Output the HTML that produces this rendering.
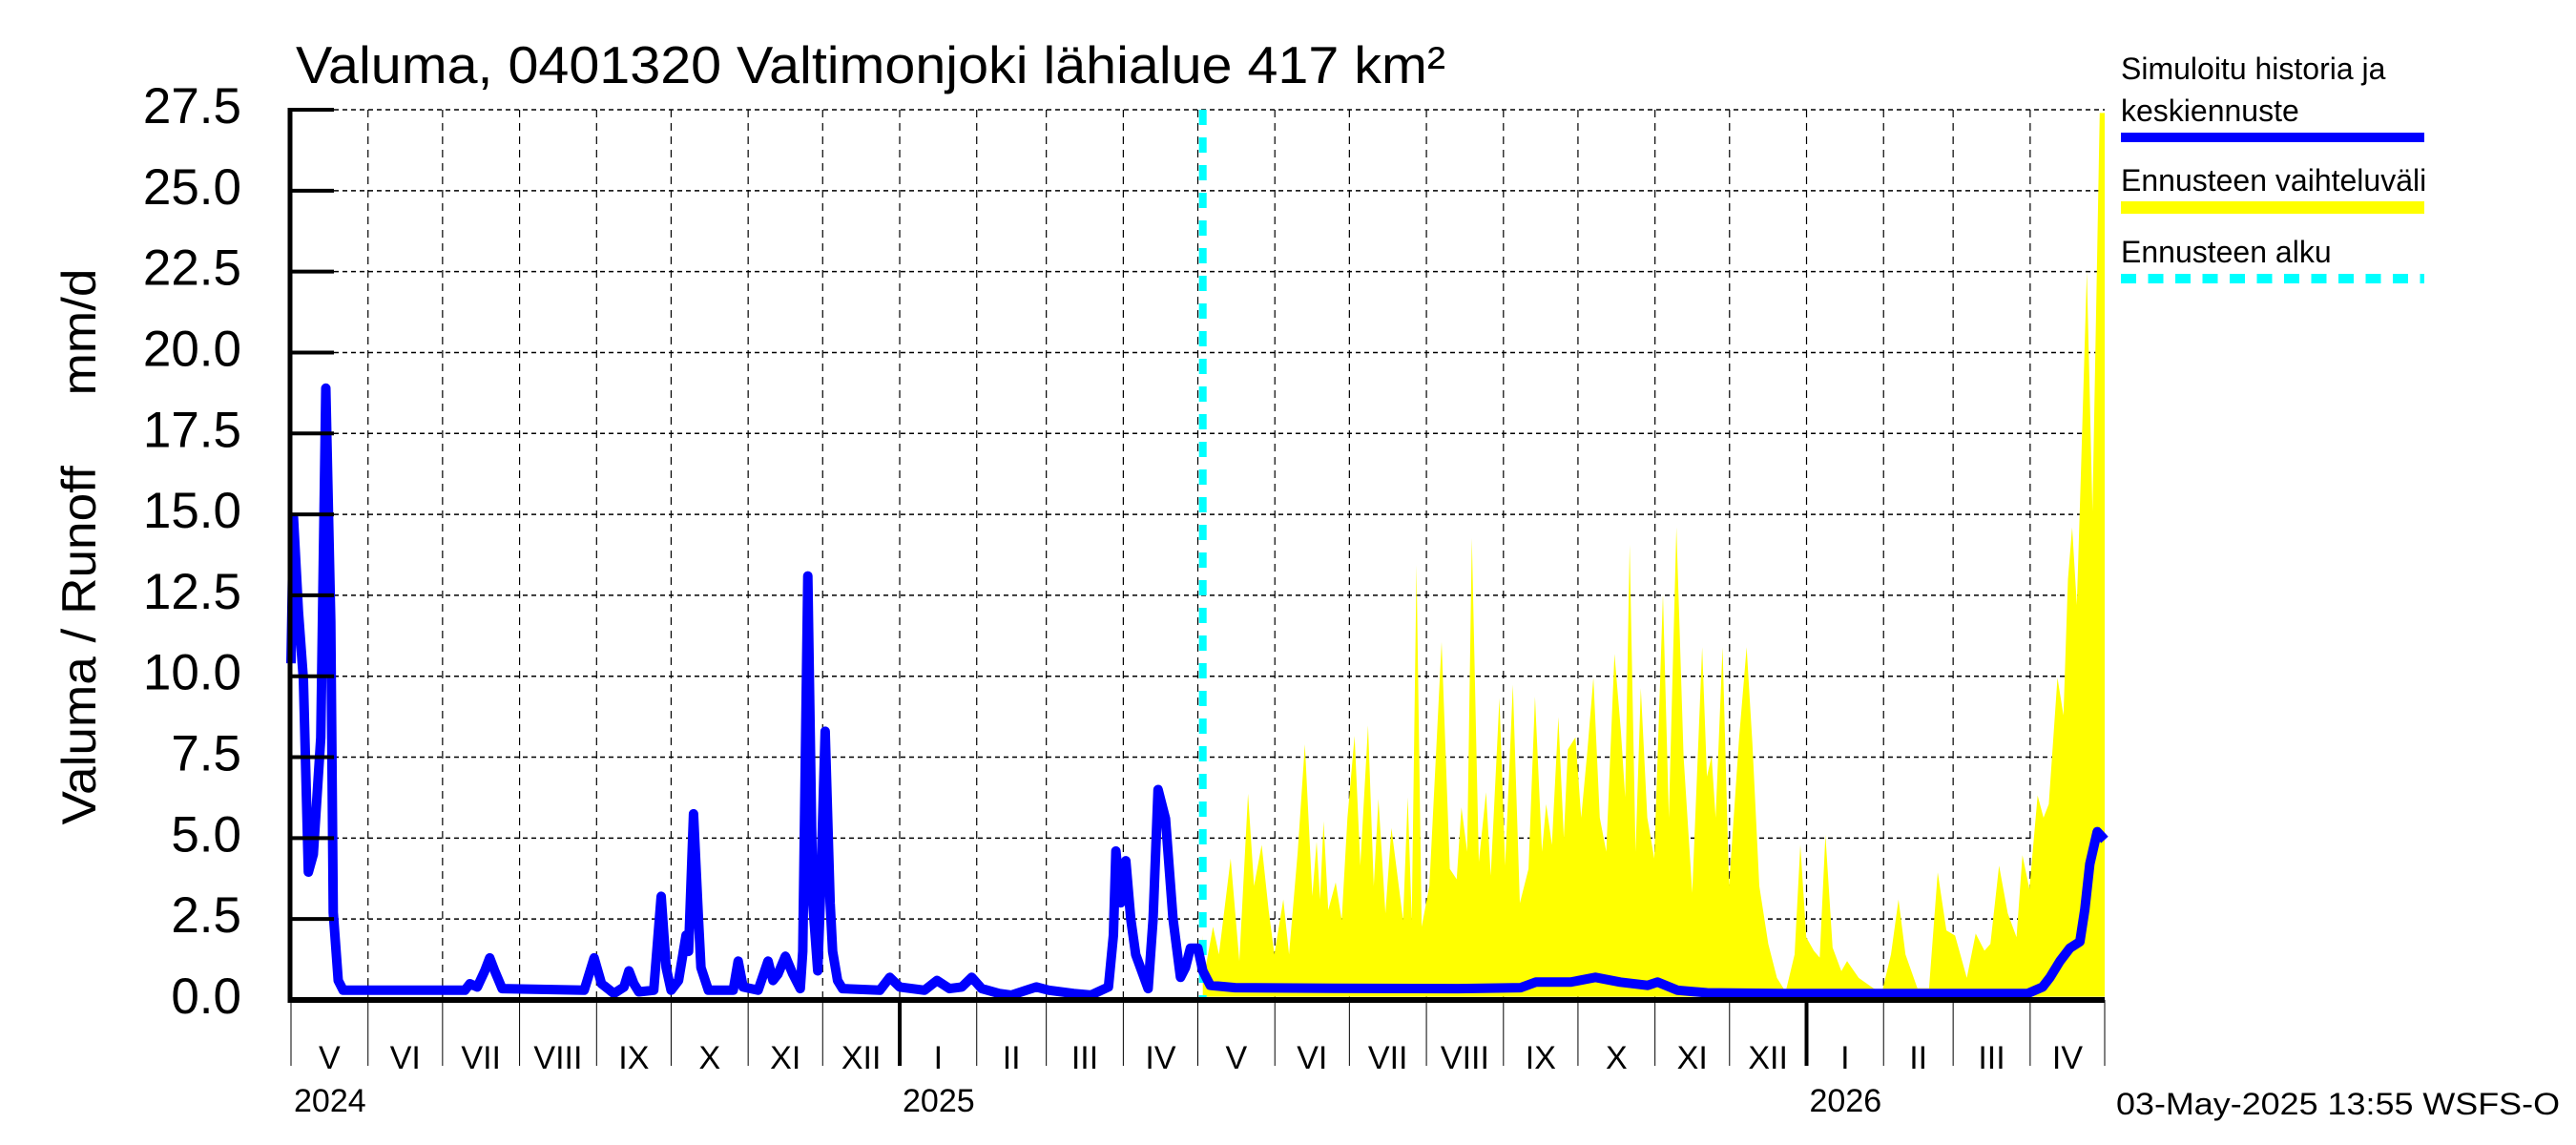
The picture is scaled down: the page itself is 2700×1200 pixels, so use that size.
<!DOCTYPE html>
<html><head><meta charset="utf-8">
<style>
html,body{margin:0;padding:0;background:#fff;}
svg{display:block;font-family:"Liberation Sans",sans-serif;}
</style></head>
<body>
<svg id="chart" width="2700" height="1200" viewBox="0 0 2700 1200" xmlns="http://www.w3.org/2000/svg">
<rect x="0" y="0" width="2700" height="1200" fill="#fff"/>
<text x="310" y="87" font-size="55" textLength="1205" lengthAdjust="spacingAndGlyphs">Valuma, 0401320 Valtimonjoki lähialue 417 km²</text>
<text transform="translate(100,573) rotate(-90)" text-anchor="middle" font-size="50" xml:space="preserve" textLength="583" lengthAdjust="spacingAndGlyphs">Valuma / Runoff     mm/d</text>
<g id="grid"></g>
<g id="band"></g>
<g id="series"></g>
<g id="axes"></g>
<g font-size="32">
<text x="2223" y="83">Simuloitu historia ja</text>
<text x="2223" y="127">keskiennuste</text>
<rect x="2223" y="139" width="318" height="10" fill="#0000ff"/>
<text x="2223" y="200">Ennusteen vaihteluväli</text>
<rect x="2223" y="211" width="318" height="13" fill="#ffff00"/>
<text x="2223" y="275">Ennusteen alku</text>
<line x1="2223" y1="292" x2="2541" y2="292" stroke="#00ffff" stroke-width="10" stroke-dasharray="16 12.5"/>
</g>
<text x="2218" y="1168" font-size="32" textLength="465" lengthAdjust="spacingAndGlyphs">03-May-2025 13:55 WSFS-O</text>
</svg>
<script>
// ---- data ----
const yTicks = [0, 2.5, 5, 7.5, 10, 12.5, 15, 17.5, 20, 22.5, 25, 27.5];
const yTickLabels = ["0.0","2.5","5.0","7.5","10.0","12.5","15.0","17.5","20.0","22.5","25.0","27.5"];
const monthStartDays = [0,31,61,92,123,153,184,214,245,276,304,335,365,396,426,457,488,518,549,579,610,641,669,700,730];
const monthLabels = ["V","VI","VII","VIII","IX","X","XI","XII","I","II","III","IV","V","VI","VII","VIII","IX","X","XI","XII","I","II","III","IV"];
const yearStartDays = [0,245,610];
const yearLabels = ["2024","2025","2026"];
const forecastStartDay = 367;
const simDays = [0,1,3,5,7,9,12,14,16,17,19,21,70,72,75,78,80,82,85,118,120,122,125,130,134,136,138,140,146,149,151,153,156,159,160,162,164,165,168,178,180,182,188,192,194,196,199,202,205,206,208,210,212,213,215,217,218,220,222,237,241,245,255,260,265,270,274,278,285,290,296,300,305,315,322,329,331,332,334,336,338,340,345,347,349,350,352,355,358,360,362,365,367,370,380,420,470,495,501,515,525,535,546,550,558,570,600,650,699,705,708,712,716,720,722,724,727,730];
const simValues = [10.4,14.9,12,9.9,3.95,4.5,8.1,18.9,11.7,2.7,0.6,0.3,0.3,0.5,0.4,0.9,1.3,0.9,0.35,0.3,0.8,1.3,0.5,0.2,0.4,0.9,0.5,0.25,0.3,3.2,1.0,0.3,0.6,2.0,1.5,5.75,2.5,1.0,0.3,0.3,1.2,0.4,0.3,1.2,0.6,0.8,1.35,0.8,0.35,1.5,13.1,3,0.9,3,8.3,3,1.5,0.6,0.35,0.3,0.7,0.4,0.3,0.6,0.35,0.4,0.7,0.35,0.2,0.15,0.3,0.4,0.3,0.2,0.15,0.4,2.0,4.6,3.0,4.3,2.5,1.4,0.35,2.5,6.5,6.2,5.6,2.5,0.7,1.0,1.6,1.6,0.9,0.45,0.38,0.36,0.35,0.38,0.55,0.55,0.7,0.55,0.45,0.55,0.3,0.22,0.2,0.2,0.2,0.4,0.7,1.2,1.6,1.8,2.8,4.2,5.2,4.95];
const bandDays = [367,367.6,371.1,373.5,378.2,381.7,385.2,387.6,390.7,393.5,395.8,399.4,401.7,405.2,408.1,411.1,412.8,414.2,415.6,417.5,420.5,422.9,425.2,428.1,430.4,433.5,435.8,437.7,440.5,442.9,445.2,447.6,449.5,451.1,453,455.1,458.2,463.1,466.4,469.2,471.1,473.4,475.3,478.1,481,482.9,486.4,488.7,491.8,494.6,498.1,500.7,503.5,505.2,507.5,510.1,512.3,513.9,517,519.3,521.7,524.2,526.8,529.4,532.7,535.3,537,538.8,541.2,543.3,545.9,548.7,552.2,554.6,557.6,560.5,564,568,569.9,571.8,573.4,576.2,578.8,582.8,585.9,588.2,591,594.6,598.1,601.6,605.2,607.5,609.9,612.9,615.3,617.6,620.5,624,626.3,631,636.9,640.4,644,647,649.8,654.6,659.3,662.8,666.3,669.8,674.5,678.1,681.6,684,687.5,691,694.5,696.9,699.7,703,705.4,707.5,711,713.4,715.2,716.9,718.8,720.4,722.8,725.1,728,730];
const bandUpper = [2.0,0.78,2.26,1.41,4.37,1.2,6.37,3.52,4.79,2.78,1.41,3.1,1.41,4.58,7.9,3.21,4.89,3.1,5.52,2.78,3.63,2.47,5.63,8.16,4.15,8.48,3.52,6.21,2.68,5.31,3.94,2.47,6.26,2.47,13.43,2.26,3.52,11.06,4.05,3.73,5.95,4.58,14.27,4.26,6.42,3.84,9.32,4.15,9.74,2.99,4.05,9.37,4.58,6.05,4.79,8.74,5.0,7.74,8.11,5.63,7.63,9.95,5.63,4.58,10.69,8.27,6.26,14.06,4.58,9.63,5.63,4.37,12.53,5.63,14.6,7.53,3.31,10.9,6.9,7.53,5.63,10.9,3.52,8.05,10.9,7.95,3.52,1.73,0.68,0.25,1.41,4.79,1.94,1.52,1.31,5.1,1.62,0.89,1.2,0.68,0.36,0.25,1.41,3.1,1.41,0.36,0.36,3.94,2.15,1.99,0.68,2.05,1.52,1.73,4.15,2.68,1.94,4.47,3.42,6.32,5.63,6.05,9.95,8.79,13.0,14.6,12.2,16.2,22.5,15.1,27.4,27.4];
const bandLower = 0.1;

// ---- scales ----
const X0 = 305, X1 = 2206, Y0 = 1048, Y1 = 115, DAYS = 730, YMAX = 27.5;
const xs = d => X0 + (d / DAYS) * (X1 - X0);
const ys = v => Y0 - (v / YMAX) * (Y0 - Y1);
const NS = "http://www.w3.org/2000/svg";
function mk(tag, parent, attrs) {
  const e = document.createElementNS(NS, tag);
  for (const k in attrs) e.setAttribute(k, attrs[k]);
  parent.appendChild(e);
  return e;
}
const grid = document.getElementById('grid');
const axes = document.getElementById('axes');
const band = document.getElementById('band');
const series = document.getElementById('series');

yTicks.forEach((v, i) => {
  const y = ys(v);
  if (v > 0) {
    const g = mk('line', grid, {x1: X0, y1: y, x2: X1, y2: y, stroke: '#000', 'stroke-width': 1.5, 'stroke-dasharray': '5 4'});
    
    
  }
  const t = mk('line', axes, {x1: X0 - 2, y1: y, x2: 350, y2: y, stroke: '#000', 'stroke-width': 4});
  
  
  const lb = mk('text', axes, {x: 253, y: y + 14, 'text-anchor': 'end', 'font-size': 53});
  lb.textContent = yTickLabels[i];
  
  
});

monthStartDays.forEach((d, i) => {
  const x = xs(d);
  if (d > 0 && d < DAYS) {
    const g = mk('line', grid, {x1: x, y1: Y1, x2: x, y2: Y0, stroke: '#000', 'stroke-width': 1.2, 'stroke-dasharray': '8 6'});
    
    
  }
  const isYear = yearStartDays.indexOf(d) >= 0 && d > 0;
  const t = mk('line', axes, {x1: x, y1: Y0, x2: x, y2: 1117, stroke: '#000', 'stroke-width': isYear ? 4 : 1});
  
  
  if (i < monthLabels.length) {
    const xm = (x + xs(monthStartDays[i + 1])) / 2;
    const lb = mk('text', axes, {x: xm, y: 1120, 'text-anchor': 'middle', 'font-size': 34});
    lb.textContent = monthLabels[i];
    
    
  }
});
yearStartDays.forEach((d, i) => {
  const lb = mk('text', axes, {x: xs(d) + 3, y: 1165, 'font-size': 34});
  lb.textContent = yearLabels[i];
  
  
});

let pts = [];
bandDays.forEach((d, i) => pts.push(xs(d).toFixed(1) + ',' + ys(bandUpper[i]).toFixed(1)));
for (let i = bandDays.length - 1; i >= 0; i--) pts.push(xs(bandDays[i]).toFixed(1) + ',' + ys(bandLower).toFixed(1));
const poly = mk('polygon', band, {points: pts.join(' '), fill: '#ffff00'});



const fl = mk('line', series, {x1: xs(forecastStartDay), y1: Y1, x2: xs(forecastStartDay), y2: Y0, stroke: '#00ffff', 'stroke-width': 8, 'stroke-dasharray': '16 13'});



const sp = simDays.map((d, i) => xs(d).toFixed(1) + ',' + ys(simValues[i]).toFixed(1)).join(' ');
const pl = mk('polyline', series, {points: sp, fill: 'none', stroke: '#0000ff', 'stroke-width': 10, 'stroke-linejoin': 'round'});



const ya = mk('line', axes, {x1: X0 - 1, y1: Y1 - 2, x2: X0 - 1, y2: Y0 + 3, stroke: '#000', 'stroke-width': 5});


const xa = mk('line', axes, {x1: X0 - 3, y1: Y0, x2: X1, y2: Y0, stroke: '#000', 'stroke-width': 6});


</script>
</body></html>
